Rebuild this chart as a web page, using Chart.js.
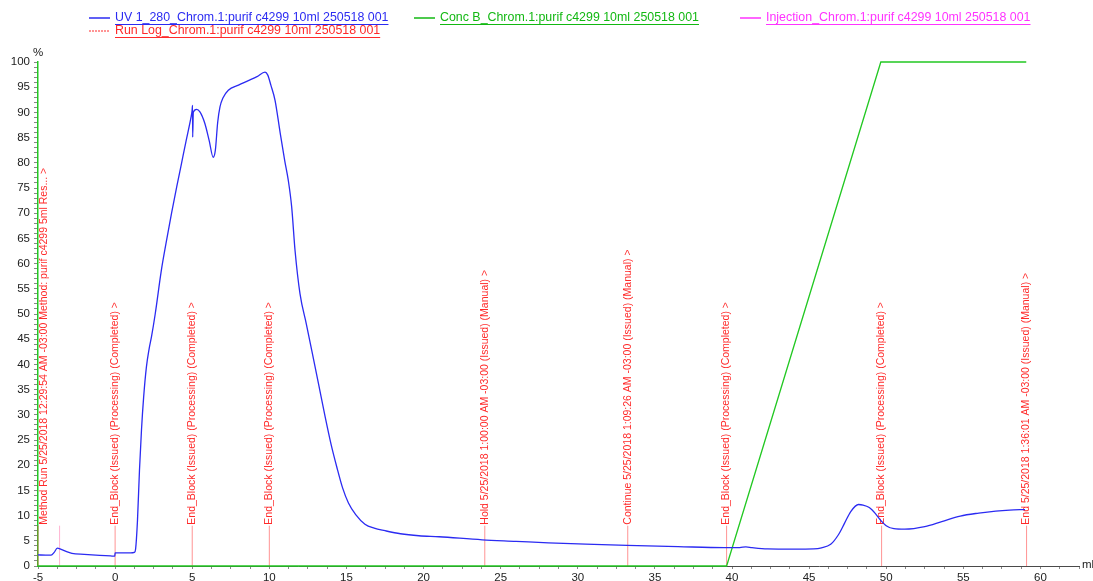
<!DOCTYPE html>
<html>
<head>
<meta charset="utf-8">
<script src="https://cdn.jsdelivr.net/npm/chart.js@4.4.1/dist/chart.umd.min.js"></script>
<style>
    body { margin: 0; background: #fff; }
    #wrap { width: 1093px; height: 581px; }
</style>
</head>
<body>
<div id="wrap"><canvas id="chromChart" width="1093" height="581"></canvas></div>
<script>
// UV 1_280 curve (ml, %)
const uvX = [
    -5.0, -4.5, -4.15, -3.95, -3.75, -3.5, -3.1, -2.8, -2.0, -1.0, -0.3, -0.02,
    0.0, 1.0, 1.25, 1.33, 1.45, 1.58, 1.71, 1.85, 2.03, 2.2, 2.36, 2.6, 3.0, 3.3,
    3.66, 4.0, 4.3, 4.6, 4.92, 4.99, 5.02, 5.03, 5.07, 5.28, 5.5, 5.82, 6.1, 6.36,
    6.5, 6.65, 6.8, 7.0, 7.34, 8.0, 8.64, 9.2, 9.72, 9.9, 10.1, 10.37, 10.7, 11.0,
    11.23, 11.45, 11.67, 11.99, 12.4, 12.75, 13.2, 13.62, 14.0, 14.37, 14.75, 15.13,
    15.6, 16.2, 16.8, 17.5, 18.5, 19.7, 21.0, 23.8, 26.0, 28.1, 30.5, 33.2, 36.5,
    39.5, 40.5, 40.9, 41.3, 42.3, 44.0, 45.3, 45.8, 46.4, 46.9, 47.3, 47.7, 48.2,
    48.5, 48.9, 49.3, 49.6, 50.0, 50.5, 51.2, 52.5, 53.6, 54.8, 56.0, 57.1, 58.0, 59.0
];
const uvY = [
    2.2, 2.15, 2.15, 2.7, 3.55, 3.3, 2.8, 2.5, 2.3, 2.1, 2.0, 1.95,
    2.6, 2.6, 2.7, 3.4, 9, 19, 27, 33.5, 39.5, 43, 45.5, 50, 58.7, 64,
    70, 75.3, 79.8, 84.3, 89, 90.3, 91.4, 85.1, 90.0, 90.6, 90.1, 87.8, 84.4, 81.1,
    82.5, 88, 91.1, 92.9, 94.4, 95.4, 96.3, 97.1, 98.0, 97.4, 95.4, 92.4, 86, 80.4,
    76.5, 71.2, 62.5, 54, 48, 42.8, 36, 29.6, 24.2, 19.7, 15.5, 12.5,
    10.2, 8.3, 7.5, 7.0, 6.4, 6.0, 5.8, 5.2, 4.9, 4.6, 4.35, 4.1, 3.85,
    3.65, 3.65, 3.8, 3.65, 3.4, 3.35, 3.4, 3.6, 4.3, 6.2, 8.5, 10.8, 12.2,
    12.1, 11.6, 10.4, 9.2, 8.0, 7.4, 7.3, 7.8, 8.8, 9.9, 10.5, 10.9, 11.1, 11.2
];

// Conc B gradient
const concX = [-5, 39.65, 49.65, 59.08];
const concY = [0, 0, 100, 100];

// Run log events
const logX = [-5, 0, 5, 10, 23.97, 33.24, 39.65, 49.7, 59.1];
const logText = [
    'Method Run 5/25/2018 12:29:54 AM -03:00 Method: purif c4299 5ml Res... >',
    'End_Block (Issued) (Processing) (Completed) >',
    'End_Block (Issued) (Processing) (Completed) >',
    'End_Block (Issued) (Processing) (Completed) >',
    'Hold 5/25/2018 1:00:00 AM -03:00 (Issued) (Manual) >',
    'Continue 5/25/2018 1:09:26 AM -03:00 (Issued) (Manual) >',
    'End_Block (Issued) (Processing) (Completed) >',
    'End_Block (Issued) (Processing) (Completed) >',
    'End 5/25/2018 1:36:01 AM -03:00 (Issued) (Manual) >'
];
const logMarkLevel = 8;

// Injection mark
const injX = [-3.6];

const xMin = -5, xMax = 62.5;
const yMin = 0, yMax = 100;

const FONT = 'Liberation Sans, Arial, sans-serif';
const BLUE = '#2b2bf2';
const GREEN = '#22c822';
const MAGENTA = '#ff33ff';
const RED = '#ff2a2a';

function toPoints(xs, ys) {
    return xs.map((x, i) => ({ x: x, y: ys[i] }));
}

function isMajor(v) {
    return Math.abs(v / 5 - Math.round(v / 5)) < 1e-6;
}

// run log lines + texts
const runLogPlugin = {
    id: 'runLog',
    beforeDatasetsDraw(chart) {
        const ctx = chart.ctx;
        const xs = chart.scales.x, ys = chart.scales.y;
        const area = chart.chartArea;
        const base = ys.getPixelForValue(0);
        const top = ys.getPixelForValue(logMarkLevel);
        ctx.save();
        ctx.lineWidth = 1;

        injX.forEach(v => {
            const px = xs.getPixelForValue(v);
            ctx.strokeStyle = '#ffb4d2';
            ctx.beginPath();
            ctx.moveTo(px, base);
            ctx.lineTo(px, top);
            ctx.stroke();
        });

        logX.forEach((v, i) => {
            const px = xs.getPixelForValue(v);
            ctx.strokeStyle = 'rgba(255, 60, 60, 0.55)';
            ctx.beginPath();
            ctx.moveTo(px, base);
            ctx.lineTo(px, top);
            ctx.stroke();

            const tx = Math.max(px, area.left + 6);
            ctx.save();
            ctx.translate(tx, top - 1);
            ctx.rotate(-Math.PI / 2);
            ctx.fillStyle = RED;
            ctx.font = '10.5px ' + FONT;
            ctx.textAlign = 'left';
            ctx.textBaseline = 'middle';
            ctx.fillText(logText[i], 0, 0);
            ctx.restore();
        });
        ctx.restore();
    }
};

// legend + axis units
const legendPlugin = {
    id: 'chromLegend',
    afterDraw(chart) {
        const ctx = chart.ctx;
        const entries = [
            { text: 'UV 1_280_Chrom.1:purif c4299 10ml 250518 001', color: BLUE, x: 89, y: 18, dash: [] },
            { text: 'Conc B_Chrom.1:purif c4299 10ml 250518 001', color: '#12b812', x: 414, y: 18, dash: [] },
            { text: 'Injection_Chrom.1:purif c4299 10ml 250518 001', color: MAGENTA, x: 740, y: 18, dash: [] },
            { text: 'Run Log_Chrom.1:purif c4299 10ml 250518 001', color: RED, x: 89, y: 31, dash: [2, 1] }
        ];
        ctx.save();
        ctx.font = '12.4px ' + FONT;
        ctx.textBaseline = 'middle';
        entries.forEach(e => {
            ctx.strokeStyle = e.color;
            ctx.lineWidth = e.dash.length ? 1 : 1.5;
            ctx.setLineDash(e.dash);
            ctx.beginPath();
            ctx.moveTo(e.x, e.y);
            ctx.lineTo(e.x + 21, e.y);
            ctx.stroke();
            ctx.setLineDash([]);

            const tx = e.x + 26;
            ctx.fillStyle = e.color;
            ctx.fillText(e.text, tx, e.y);
            const w = ctx.measureText(e.text).width;
            ctx.lineWidth = 1;
            ctx.beginPath();
            ctx.moveTo(tx, e.y + 6.5);
            ctx.lineTo(tx + w, e.y + 6.5);
            ctx.stroke();
        });

        const area = chart.chartArea;
        ctx.fillStyle = '#222';
        ctx.font = '11.5px ' + FONT;
        ctx.textAlign = 'center';
        ctx.fillText('%', area.left, area.top - 9);
        ctx.textAlign = 'left';
        ctx.fillText('ml', area.right + 3, area.bottom - 1);
        ctx.restore();
    }
};

const ctx = document.getElementById('chromChart').getContext('2d');
new Chart(ctx, {
    type: 'line',
    data: {
        datasets: [
            {
                label: 'UV 1_280_Chrom.1:purif c4299 10ml 250518 001',
                data: toPoints(uvX, uvY),
                borderColor: BLUE,
                borderWidth: 1.3,
                pointRadius: 0,
                cubicInterpolationMode: 'monotone',
                fill: false
            },
            {
                label: 'Conc B_Chrom.1:purif c4299 10ml 250518 001',
                data: toPoints(concX, concY),
                borderColor: GREEN,
                borderWidth: 1.3,
                pointRadius: 0,
                tension: 0,
                fill: false,
                clip: false
            }
        ]
    },
    options: {
        responsive: false,
        animation: false,
        devicePixelRatio: 1,
        layout: { padding: { top: 62, right: 14, left: 0, bottom: 0 } },
        plugins: {
            legend: { display: false },
            tooltip: { enabled: false }
        },
        scales: {
            x: {
                type: 'linear',
                min: xMin,
                max: xMax,
                afterFit: scale => { scale.height = 15; },
                border: { display: true, color: '#4a4a4a', width: 1 },
                grid: { drawOnChartArea: false, drawTicks: true, tickLength: 3, color: '#888' },
                ticks: {
                    stepSize: 1.25,
                    autoSkip: false,
                    maxRotation: 0,
                    padding: 2,
                    color: '#222',
                    font: { family: FONT, size: 11.5 },
                    callback: v => isMajor(v) ? String(Math.round(v)) : ''
                }
            },
            y: {
                type: 'linear',
                min: yMin,
                max: yMax,
                afterFit: scale => { scale.width = 38; },
                border: { display: true, color: GREEN, width: 1.5 },
                grid: { drawOnChartArea: false, drawTicks: true, tickLength: 4, color: '#888' },
                ticks: {
                    stepSize: 1,
                    autoSkip: false,
                    padding: 4,
                    color: '#222',
                    font: { family: FONT, size: 11.5 },
                    callback: v => isMajor(v) ? String(Math.round(v)) : ''
                }
            }
        }
    },
    plugins: [runLogPlugin, legendPlugin]
});
</script>
</body>
</html>
